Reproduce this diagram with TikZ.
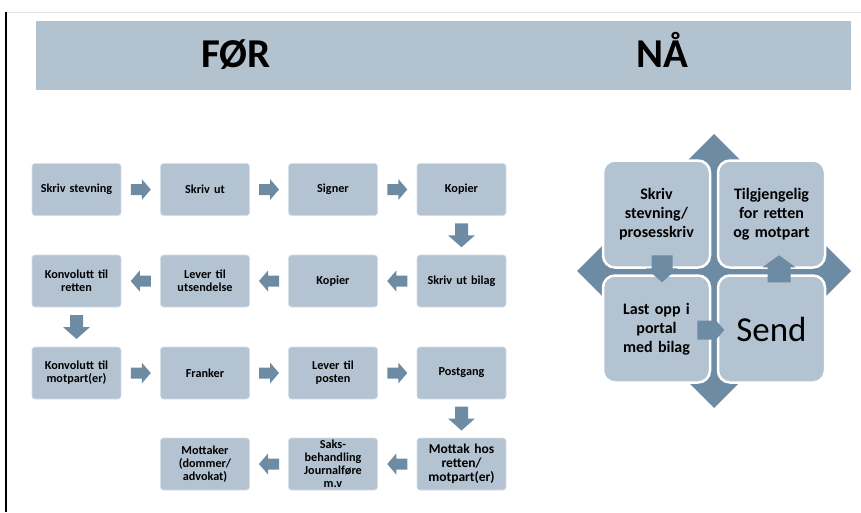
\documentclass[tikz,border=0pt]{standalone}
\usepackage{fontspec}
\setmainfont{Carlito}
\usetikzlibrary{calc}

\definecolor{boxfill}{HTML}{B4C3D1}
\definecolor{arrowfill}{HTML}{6E8BA4}
\definecolor{bannerfill}{HTML}{B3C2CF}
\definecolor{rulegray}{HTML}{E2E2E2}

\tikzset{
  stage/.style={rectangle, rounded corners=3pt, fill=boxfill,
    draw=boxfill!55!white, line width=0.6pt,
    minimum width=89pt, minimum height=52pt, text width=86pt,
    align=center, inner sep=1pt,
    font=\fontsize{12.2}{13}\selectfont\bfseries},
  bigstage/.style={stage, font=\fontsize{13.5}{14}\selectfont\bfseries},
  quad/.style={rectangle, rounded corners=12pt, fill=boxfill,
    draw=white, line width=2.5pt,
    minimum width=107pt, minimum height=107pt, text width=100pt,
    align=center, inner sep=0pt,
    font=\fontsize{16}{19}\selectfont\bfseries},
  heading/.style={anchor=base, font=\fontsize{41}{41}\selectfont\bfseries},
}

% block arrow: #1 centre, #2 angle, #3 length, #4 shaft width,
% #5 head width, #6 head length
\newcommand\blockarr[6]{%
  \fill[arrowfill, shift={#1}, rotate=#2]
    (-#3/2,-#4/2) -- (#3/2-#6,-#4/2) -- (#3/2-#6,-#5/2) -- (#3/2,0)
    -- (#3/2-#6,#5/2) -- (#3/2-#6,#4/2) -- (-#3/2,#4/2) -- cycle;}
\newcommand\harr[3]{\blockarr{($(#1)!0.5!(#2)$)}{#3}{20}{11}{21}{9}}
\newcommand\varr[2]{\blockarr{($(#1)!0.5!(#2)$)}{-90}{24}{13}{27}{12}}

\begin{document}
\begin{tikzpicture}[x=1pt,y=-1pt]
\useasboundingbox (0,0) rectangle (861,512);

% page rules
\draw[rulegray, line width=1pt] (6,12) -- (861,12);
\draw[black, line width=1.4pt] (6,12) -- (6,512);

% banner
\fill[bannerfill] (36,21) rectangle (851,90);
\node[heading] (for) at (236,67) {FØR};
\node[heading] (naa) at (662,67) {NÅ};

% ---- old process ----
\node[stage] (s1)  at (76.5,189.5) {Skriv stevning};
\node[stage] (s2)  at (205,189.5)  {Skriv ut};
\node[stage] (s3)  at (333,189.5)  {Signer};
\node[stage] (s4)  at (461.5,189.5) {Kopier};
\node[stage] (s5)  at (461.5,281)  {Skriv ut bilag};
\node[stage] (s6)  at (333,281)    {Kopier};
\node[stage] (s7)  at (205,281)    {Lever til\\utsendelse};
\node[stage] (s8)  at (76.5,281)   {Konvolutt til\\retten};
\node[stage] (s9)  at (76.5,373)   {Konvolutt til\\motpart(er)};
\node[stage] (s10) at (205,373)    {Franker};
\node[stage] (s11) at (333,373)    {Lever til\\posten};
\node[stage] (s12) at (461.5,373)  {Postgang};
\node[bigstage] (s13) at (461.5,464)  {Mottak hos\\retten/\\motpart(er)};
\node[stage] (s14) at (333,464)    {Saks-\\behandling\\Journalføre\\m.v};
\node[stage] (s15) at (205,464)    {Mottaker\\(dommer/\\advokat)};

\harr{s1.east}{s2.west}{0}
\harr{s2.east}{s3.west}{0}
\harr{s3.east}{s4.west}{0}
\varr{s4.south}{s5.north}
\harr{s5.west}{s6.east}{180}
\harr{s6.west}{s7.east}{180}
\harr{s7.west}{s8.east}{180}
\varr{s8.south}{s9.north}
\harr{s9.east}{s10.west}{0}
\harr{s10.east}{s11.west}{0}
\harr{s11.east}{s12.west}{0}
\varr{s12.south}{s13.north}
\harr{s13.west}{s14.east}{180}
\harr{s14.west}{s15.east}{180}

% ---- new process ----
\fill[arrowfill] (714,134) -- (851,271) -- (714,408) -- (577,271) -- cycle;
\node[quad] (q1) at (656.5,214) {Skriv\\stevning/\\prosesskriv};
\node[quad] (q2) at (771.5,214) {Tilgjengelig\\for retten\\og motpart};
\node[quad] (q3) at (656.5,329) {Last opp i\\portal\\med bilag};
\node[quad, font=\fontsize{35}{40}\selectfont] (q4) at (771.5,329) {Send};

\blockarr{($(q1.south)+(5.5,0)$)}{-90}{27}{21}{32}{14}
\blockarr{($(q3.east)+(-0.5,1)$)}{0}{27}{19}{28}{12}
\blockarr{($(q2.south)+(7.5,0)$)}{90}{27}{23}{33}{12}
\end{tikzpicture}
\end{document}
